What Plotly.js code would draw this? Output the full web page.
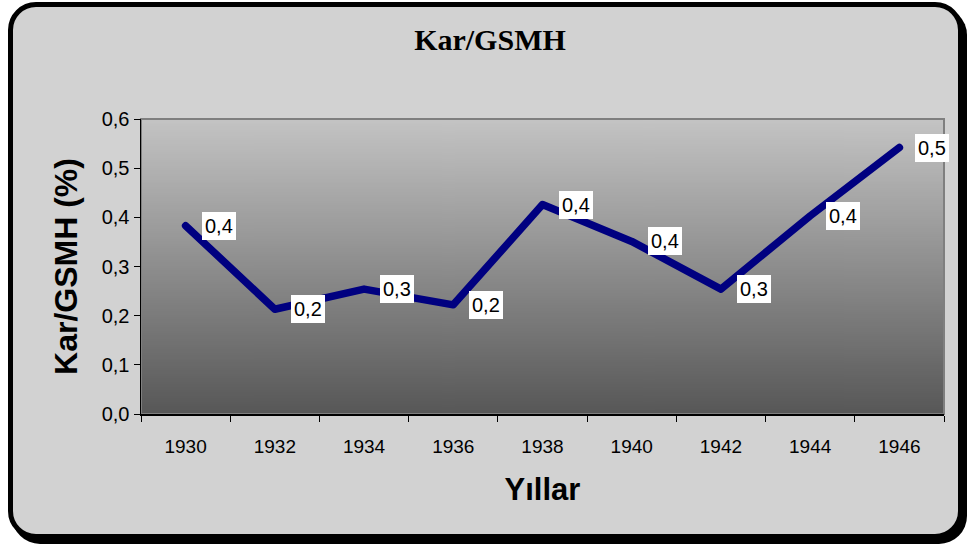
<!DOCTYPE html>
<html>
<head>
<meta charset="utf-8">
<script src="https://cdn.plot.ly/plotly-3.0.1.min.js"></script>
<style>
  html, body { margin: 0; padding: 0; background: #ffffff; width: 971px; height: 551px; overflow: hidden; }
  #frame { position: absolute; left: 8px; top: 2px; width: 955px; height: 537px; box-sizing: border-box;
           border: 5px solid #000; border-radius: 28px; box-shadow: 4px 5px 0 #000; background: #d2d2d2; }
  #chart { position: absolute; left: 0; top: 0; width: 971px; height: 551px; }
  #chart path.js-line { stroke-linejoin: round; stroke-linecap: round; }
</style>
</head>
<body>
<div id="frame"></div>
<div id="chart"></div>
<script>
// Data
const years = ['1930', '1932', '1934', '1936', '1938', '1940', '1942', '1944', '1946'];
const karGsmh = [0.383, 0.213, 0.254, 0.222, 0.426, 0.351, 0.254, 0.403, 0.542];
const yTickVals = [0, 0.1, 0.2, 0.3, 0.4, 0.5, 0.6];
const chartTitle = 'Kar/GSMH';
const yTitle = 'Kar/GSMH (%)';
const xTitle = 'Yıllar';

// Gradient image for plot area
const cv = document.createElement('canvas');
cv.width = 4; cv.height = 300;
const ctx = cv.getContext('2d');
const g = ctx.createLinearGradient(0, 0, 0, 300);
g.addColorStop(0, '#c4c4c4');
g.addColorStop(1, '#575757');
ctx.fillStyle = g;
ctx.fillRect(0, 0, 4, 300);
const gradURL = cv.toDataURL();

const labelFont = { family: 'Arial, "Liberation Sans", sans-serif', size: 20, color: '#000' };

// category axis: annotation x uses the category's serial index
const annotations = years.map((yr, i) => ({
  x: i, y: karGsmh[i], xref: 'x', yref: 'y',
  text: karGsmh[i].toFixed(1).replace('.', ','),
  showarrow: false, xanchor: 'left', yanchor: 'middle', xshift: 16,
  bgcolor: '#ffffff', bordercolor: 'rgba(0,0,0,0)', borderwidth: 0, borderpad: 3, font: labelFont
}));

const trace = {
  x: years, y: karGsmh, type: 'scatter', mode: 'lines',
  line: { color: '#000080', width: 7.5 },
  hoverinfo: 'skip'
};

const layout = {
  width: 971, height: 551,
  margin: { l: 141, r: 27, t: 119, b: 137 },
  paper_bgcolor: 'rgba(0,0,0,0)',
  plot_bgcolor: 'rgba(0,0,0,0)',
  separators: ',.',
  showlegend: false,
  title: {
    text: chartTitle, xref: 'container', yref: 'container', x: 0.5046, y: 0.928,
    xanchor: 'center', yanchor: 'middle',
    font: { family: '"Liberation Serif", "Times New Roman", serif', size: 30, color: '#000', weight: 'bold' }
  },
  xaxis: {
    type: 'category', range: [-0.5, 8.5], tickson: 'boundaries',
    ticks: 'outside', ticklen: 6, tickcolor: '#000', tickwidth: 1,
    showline: true, linecolor: '#000', linewidth: 1.5,
    showgrid: false, zeroline: false,
    ticklabelstandoff: 15,
    tickfont: { family: 'Arial, "Liberation Sans", sans-serif', size: 19, color: '#000' },
    title: { text: xTitle, standoff: 22,
      font: { family: 'Arial, "Liberation Sans", sans-serif', size: 31, color: '#000', weight: 'bold' } },
    fixedrange: true
  },
  yaxis: {
    range: [0, 0.6], tickvals: yTickVals, tickformat: '.1f',
    ticks: 'outside', ticklen: 6, tickcolor: '#000', tickwidth: 1,
    showline: true, linecolor: '#000', linewidth: 1.5,
    showgrid: false, zeroline: false,
    tickfont: { family: 'Arial, "Liberation Sans", sans-serif', size: 20, color: '#000' },
    title: { text: yTitle, standoff: 14,
      font: { family: 'Arial, "Liberation Sans", sans-serif', size: 32, color: '#000', weight: 'bold' } },
    fixedrange: true
  },
  images: [{
    source: gradURL, xref: 'paper', yref: 'paper', x: 0, y: 1, sizex: 1, sizey: 1,
    sizing: 'stretch', xanchor: 'left', yanchor: 'top', layer: 'below'
  }],
  shapes: [{
    type: 'rect', xref: 'paper', yref: 'paper', x0: 0, x1: 1, y0: 0, y1: 1,
    line: { color: '#7f7f7f', width: 2 }, layer: 'below'
  }],
  annotations: annotations
};

Plotly.newPlot('chart', [trace], layout, { displayModeBar: false, staticPlot: true });
</script>
</body>
</html>
